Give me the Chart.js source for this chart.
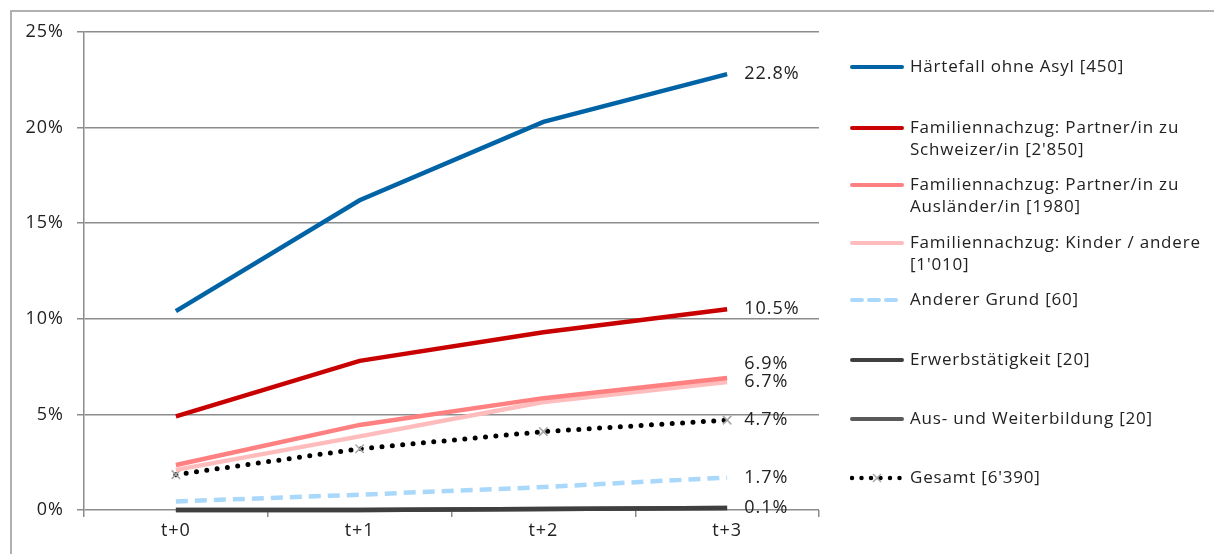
<!DOCTYPE html>
<html>
<head>
<meta charset="utf-8">
<script src="https://cdn.jsdelivr.net/npm/chart.js@4.4.1/dist/chart.umd.min.js"></script>
<style>
  body { margin: 0; background: #fff; font-family: "Open Sans", sans-serif; }
  #wrap { position: relative; width: 1214px; height: 554px; }
  #frame { position: absolute; left: 10px; top: 10px; width: 1210px; height: 560px;
           border-left: 2px solid #b0b0b0; border-top: 2px solid #b0b0b0; }
  .leg { position: absolute; left: 850px; font-size: 17px; letter-spacing: 0.8px; color: #222; line-height: 22px; }
  .leg svg { position: absolute; left: 0; top: 0; }
  .leg span { position: absolute; left: 60px; white-space: nowrap; }
</style>
</head>
<body>
<div id="wrap">
  <div id="frame"></div>
  <canvas id="chart" width="1214" height="554" style="position:absolute;left:0;top:0"></canvas>
  <div id="legend"></div>
</div>
<script>
// categories and series (share in %)
const categories = ['t+0', 't+1', 't+2', 't+3'];
const haertefall = [10.4, 16.2, 20.3, 22.8];
const partnerSchweizer = [4.9, 7.8, 9.3, 10.5];
const partnerAuslaender = [2.35, 4.45, 5.85, 6.9];
const kinderAndere = [2.1, 3.85, 5.65, 6.7];
const andererGrund = [0.45, 0.8, 1.2, 1.7];
const erwerb = [0.0, 0.0, 0.05, 0.1];
const ausbildung = [0.0, 0.0, 0.05, 0.1];
const gesamt = [1.85, 3.2, 4.1, 4.7];

const seriesNames = [
    ['Härtefall ohne Asyl [450]'],
    ['Familiennachzug: Partner/in zu', 'Schweizer/in [2\'850]'],
    ['Familiennachzug: Partner/in zu', 'Ausländer/in [1980]'],
    ['Familiennachzug: Kinder / andere', '[1\'010]'],
    ['Anderer Grund [60]'],
    ['Erwerbstätigkeit [20]'],
    ['Aus- und Weiterbildung [20]'],
    ['Gesamt [6\'390]']
];
const endLabels = ['22.8%', '10.5%', '6.9%', '6.7%', '1.7%', null, '0.1%', '4.7%'];

const colors = ['#0063a6', '#c80000', '#ff8080', '#ffbcbc', '#a9d8fb', '#3f3f3f', '#5a5a5a', '#000000'];

// legend rows (top of text block)
const legendTops = [55, 116, 173, 231, 288, 348, 407, 466];

const datasets = [haertefall, partnerSchweizer, partnerAuslaender, kinderAndere,
    andererGrund, erwerb, ausbildung, gesamt].map(function (values, i) {
    const ds = {
        label: seriesNames[i].join(' '),
        data: values,
        borderColor: colors[i],
        borderWidth: 4.5,
        pointRadius: 0,
        tension: 0,
        clip: false
    };
    if (i === 4) ds.borderDash = [12, 7];
    if (i === 7) {
        ds.borderDash = [0, 10.4];
        ds.borderCapStyle = 'round';
        ds.borderWidth = 5;
        ds.pointStyle = 'crossRot';
        ds.pointRadius = 6;
        ds.pointBorderColor = '#a6a6a6';
        ds.pointBorderWidth = 1.5;
    }
    return ds;
});

// wider text like the original font
const spacingPlugin = {
    id: 'spacing',
    beforeDraw(chart) { chart.ctx.letterSpacing = '1px'; }
};

// draw end-of-line value labels
const endLabelPlugin = {
    id: 'endLabels',
    afterDatasetsDraw(chart) {
        const ctx = chart.ctx;
        ctx.save();
        ctx.font = '18px "Open Sans"';
        ctx.fillStyle = '#222';
        ctx.textBaseline = 'middle';
        chart.data.datasets.forEach(function (ds, i) {
            if (!endLabels[i]) return;
            const pts = chart.getDatasetMeta(i).data;
            const p = pts[pts.length - 1];
            let dy = 0;
            if (i === 2) dy = -14;
            ctx.fillText(endLabels[i], p.x + 17, p.y + dy);
        });
        ctx.restore();
    }
};

new Chart(document.getElementById('chart').getContext('2d'), {
    type: 'line',
    data: { labels: categories, datasets: datasets },
    plugins: [spacingPlugin, endLabelPlugin],
    options: {
        responsive: false,
        animation: false,
        layout: { padding: { left: 10, right: 395, top: 32, bottom: 0 } },
        plugins: { legend: { display: false }, tooltip: { enabled: false } },
        scales: {
            x: {
                offset: true,
                grid: { offset: true, drawOnChartArea: false, tickLength: 7, color: '#8c8c8c', lineWidth: 1.5 },
                border: { display: false },
                ticks: { color: '#222', font: { family: 'Open Sans', size: 18 }, padding: 3 },
                afterFit: function (s) { s.height = 44; }
            },
            y: {
                min: 0,
                max: 25,
                ticks: {
                    stepSize: 5,
                    color: '#222',
                    font: { family: 'Open Sans', size: 18 },
                    padding: 13,
                    callback: function (v) { return v + '%'; }
                },
                grid: { color: '#8c8c8c', lineWidth: 1.5, tickLength: 7 },
                border: { color: '#8c8c8c', width: 1.5 },
                afterFit: function (s) { s.width = 74; }
            }
        }
    }
});

// custom legend on the right
const legend = document.getElementById('legend');
seriesNames.forEach(function (lines, i) {
    const row = document.createElement('div');
    row.className = 'leg';
    row.style.top = legendTops[i] + 'px';
    let sample;
    if (i === 4) {
        sample = '<line x1="2" y1="12" x2="52" y2="12" stroke="' + colors[i] + '" stroke-width="4" stroke-dasharray="10 7" stroke-linecap="round"/>';
    } else if (i === 7) {
        sample = '<line x1="2" y1="12" x2="52" y2="12" stroke="#000" stroke-width="4.5" stroke-dasharray="0 9.5" stroke-linecap="round"/>' +
            '<path d="M23 8 L31 16 M31 8 L23 16" stroke="#a6a6a6" stroke-width="1.5"/>';
    } else {
        sample = '<line x1="2" y1="12" x2="52" y2="12" stroke="' + colors[i] + '" stroke-width="4" stroke-linecap="round"/>';
    }
    row.innerHTML = '<svg width="56" height="24">' + sample + '</svg>' +
        lines.map(function (t, k) { return '<span style="top:' + (k * 22) + 'px">' + t + '</span>'; }).join('');
    legend.appendChild(row);
});
</script>
</body>
</html>
